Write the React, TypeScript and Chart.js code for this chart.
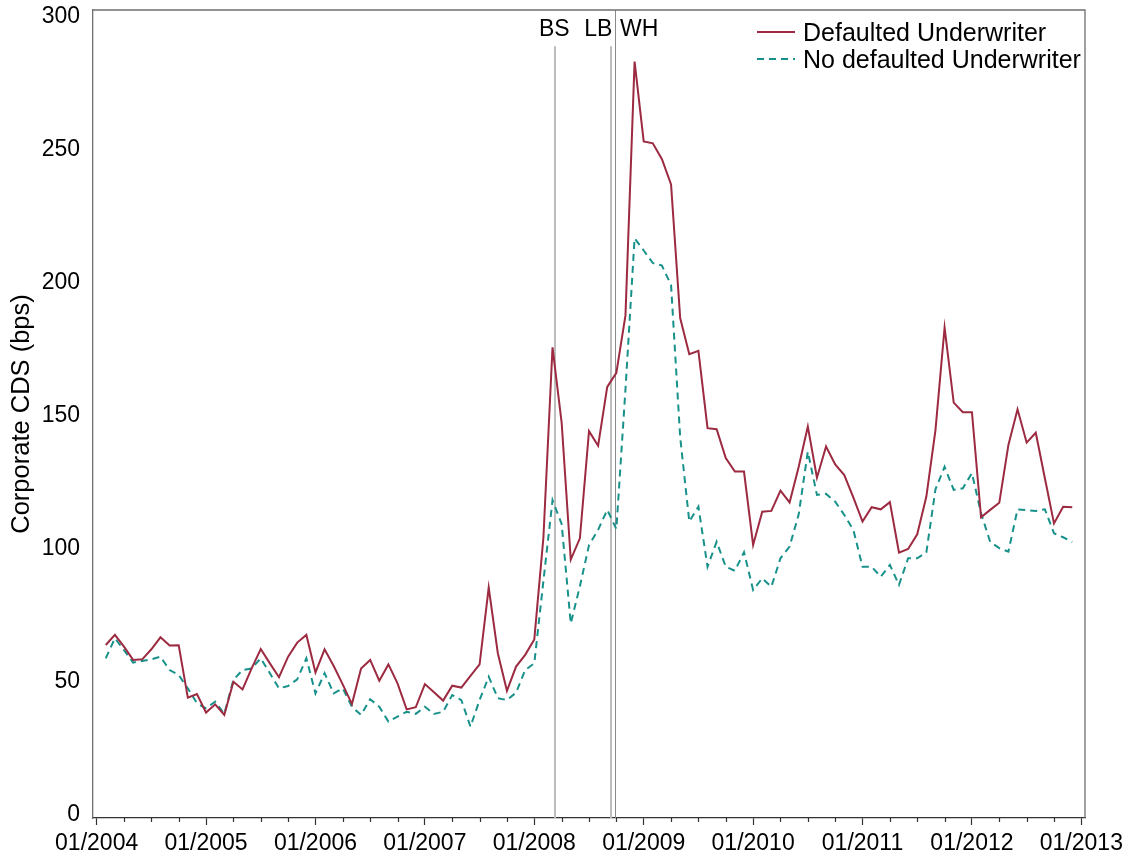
import React, { useEffect, useRef } from "react";
import { Chart, registerables } from "chart.js";

Chart.register(...registerables);

// ---- Data (monthly, first observation = 02/2004, last = 12/2012) ----
const defaulted = [
  63.9, 67.7, 63.3, 58.3, 58.5, 62.3, 66.8, 63.7, 63.8, 44.1, 45.5, 38.5,
  41.6, 37.6, 50.1, 47.2, 55.1, 62.4, 57.0, 51.8, 59.5, 64.8, 67.7, 53.6,
  62.3, 56.0, 49.0, 41.7, 55.1, 58.3, 50.5, 56.6, 49.5, 39.7, 40.5, 49.2,
  46.1, 43.0, 48.6, 47.9, 52.3, 56.6, 85.5, 60.8, 46.7, 55.8, 60.2, 66.0,
  104.3, 175.8, 147.5, 96.0, 104.0, 144.3, 138.8, 160.9, 166.2, 187.8, 283.2, 253.2,
  252.5, 246.5, 237.0, 186.8, 173.2, 174.5, 145.4, 145.0, 134.2, 129.1, 129.1, 101.5,
  114.0, 114.3, 121.9, 117.5, 130.9, 146.0, 126.8, 138.5, 131.8, 127.8, 119.3, 110.3,
  115.7, 114.9, 117.6, 98.6, 100.0, 105.5, 119.7, 144.7, 183.2, 155.0, 151.4, 151.4,
  111.9, 114.7, 117.4, 139.1, 152.5, 140.0, 143.7, 126.6, 109.6, 115.9, 115.7,
];

const noDefaulted = [
  58.9, 66.4, 62.0, 57.3, 57.9, 58.5, 59.5, 54.5, 52.6, 47.6, 42.0, 40.1,
  42.6, 38.0, 50.8, 54.5, 55.1, 58.9, 53.3, 47.6, 48.5, 51.0, 58.9, 45.7,
  53.3, 45.7, 47.6, 40.7, 37.6, 43.5, 40.7, 35.1, 37.0, 38.8, 38.0, 40.7,
  38.0, 38.8, 45.1, 43.2, 33.2, 43.2, 52.0, 43.9, 43.2, 46.0, 54.5, 57.0,
  88.0, 118.3, 109.4, 72.0, 86.0, 101.4, 107.2, 114.7, 107.5, 160.0, 216.8, 212.2,
  207.5, 206.5, 199.2, 142.0, 110.3, 115.9, 93.3, 102.7, 93.3, 91.8, 98.8, 84.6,
  89.0, 85.8, 96.5, 100.9, 113.0, 136.6, 120.3, 120.7, 117.8, 112.8, 107.1, 93.3,
  93.3, 89.6, 94.0, 86.5, 96.5, 96.5, 98.7, 122.4, 130.9, 122.2, 122.8, 128.5,
  113.4, 102.7, 100.3, 99.0, 114.9, 114.6, 114.3, 114.9, 105.9, 104.4, 102.7,
];

// months since 01/2004 for each observation (02/2004 = 1)
const FIRST_MONTH = 1;
const months = defaulted.map((_, i) => FIRST_MONTH + i);

const yearTickLabels = [
  "01/2004", "01/2005", "01/2006", "01/2007", "01/2008",
  "01/2009", "01/2010", "01/2011", "01/2012", "01/2013",
];
const yTickValues = [0, 50, 100, 150, 200, 250, 300];

const eventLabels = ["BS", "LB", "WH"];
const eventMonths = [50.3, 56.45, 56.85];

const seriesLabels = ["Defaulted Underwriter", "No defaulted Underwriter"];

// ---- Styles ----
const FONT = '"Liberation Sans", Arial, Helvetica, sans-serif';
const RED = "#9c2a40";
const TEAL = "#17918a";
const TEAL_DASH = [7, 5];
const eventStyles = [
  { color: "#bdbdbd", width: 2, topValue: 289, align: "center" as CanvasTextAlign, dx: -1 },
  { color: "#bdbdbd", width: 2, topValue: 289, align: "right" as CanvasTextAlign, dx: 1 },
  { color: "#8a8a8a", width: 1, topValue: null as number | null, align: "left" as CanvasTextAlign, dx: 5 },
];

const decorPlugin = {
  id: "decor",
  beforeDatasetsDraw(chart: any) {
    const { ctx, chartArea, scales } = chart;
    const xs = scales.x;
    const ys = scales.y;
    ctx.save();
    eventMonths.forEach((m, i) => {
      const st = eventStyles[i];
      const x = Math.round(xs.getPixelForValue(m)) + (st.width === 1 ? 0.5 : 0);
      const top = st.topValue == null ? chartArea.top : ys.getPixelForValue(st.topValue);
      ctx.strokeStyle = st.color;
      ctx.lineWidth = st.width;
      ctx.beginPath();
      ctx.moveTo(x, top);
      ctx.lineTo(x, chartArea.bottom);
      ctx.stroke();
    });
    ctx.restore();
  },
  afterDraw(chart: any) {
    const { ctx, chartArea, scales } = chart;
    const xs = scales.x;
    ctx.save();
    // frame top & right
    ctx.strokeStyle = "#6f6f6f";
    ctx.lineWidth = 1.3;
    ctx.beginPath();
    ctx.moveTo(chartArea.left, chartArea.top);
    ctx.lineTo(chartArea.right, chartArea.top);
    ctx.lineTo(chartArea.right, chartArea.bottom);
    ctx.stroke();

    // minor (quarterly) ticks
    ctx.strokeStyle = "#333";
    ctx.lineWidth = 1.2;
    for (let m = 3; m < 108; m += 3) {
      if (m % 12 === 0) continue;
      const x = Math.round(xs.getPixelForValue(m)) + 0.5;
      ctx.beginPath();
      ctx.moveTo(x, chartArea.bottom);
      ctx.lineTo(x, chartArea.bottom + 4);
      ctx.stroke();
    }

    // event labels
    ctx.fillStyle = "#000";
    ctx.font = `23px ${FONT}`;
    ctx.textBaseline = "middle";
    eventMonths.forEach((m, i) => {
      const st = eventStyles[i];
      const x = xs.getPixelForValue(m) + st.dx;
      ctx.textAlign = st.align;
      ctx.fillText(eventLabels[i], x, chartArea.top + 20);
    });

    // legend
    const x0 = chartArea.right - 328;
    const rows = [chartArea.top + 23, chartArea.top + 50];
    const colors = [RED, TEAL];
    const dashes = [[], TEAL_DASH];
    ctx.font = `25px ${FONT}`;
    ctx.textAlign = "left";
    rows.forEach((y, i) => {
      ctx.strokeStyle = colors[i];
      ctx.lineWidth = 2;
      ctx.setLineDash(dashes[i]);
      ctx.beginPath();
      ctx.moveTo(x0, y - 1);
      ctx.lineTo(x0 + 38, y - 1);
      ctx.stroke();
      ctx.setLineDash([]);
      ctx.fillStyle = "#000";
      ctx.fillText(seriesLabels[i], x0 + 46, y + 1);
    });
    ctx.restore();
  },
};

export default function App() {
  const ref = useRef<HTMLCanvasElement | null>(null);

  useEffect(() => {
    document.body.style.margin = "0";
    const canvas = ref.current;
    if (!canvas) return;
    const chart = new Chart(canvas, {
      type: "line",
      data: {
        datasets: [
          {
            label: seriesLabels[0],
            data: months.map((m, i) => ({ x: m, y: defaulted[i] })),
            borderColor: RED,
            borderWidth: 2,
            pointRadius: 0,
            tension: 0,
            fill: false,
          },
          {
            label: seriesLabels[1],
            data: months.map((m, i) => ({ x: m, y: noDefaulted[i] })),
            borderColor: TEAL,
            borderWidth: 2,
            borderDash: TEAL_DASH,
            pointRadius: 0,
            tension: 0,
            fill: false,
          },
        ],
      },
      options: {
        responsive: false,
        animation: false,
        layout: { padding: { left: 0, top: 10, right: 46, bottom: 0 } },
        plugins: {
          legend: { display: false },
          tooltip: { enabled: false },
        },
        scales: {
          x: {
            type: "linear",
            min: -0.4,
            max: 108.4,
            afterBuildTicks: (s: any) => {
              s.ticks = yearTickLabels.map((_, i) => ({ value: i * 12 }));
            },
            ticks: {
              callback: (_v: any, i: number) => yearTickLabels[i],
              font: { family: FONT, size: 23 },
              color: "#000",
              padding: 5,
              maxRotation: 0,
              autoSkip: false,
            },
            grid: {
              display: true,
              drawOnChartArea: false,
              drawTicks: true,
              tickLength: 7,
              tickColor: "#333",
              tickWidth: 1.2,
            },
            border: { display: true, color: "#333", width: 1.3 },
            afterFit: (s: any) => {
              s.height = 42;
              s.paddingLeft = 0;
              s.paddingRight = 0;
            },
          },
          y: {
            type: "linear",
            min: -1.13,
            max: 302.6,
            afterBuildTicks: (s: any) => {
              s.ticks = yTickValues.map((v) => ({ value: v }));
            },
            ticks: {
              font: { family: FONT, size: 23 },
              color: "#000",
              padding: 5,
            },
            grid: { display: false },
            border: { display: true, color: "#6f6f6f", width: 1.3 },
            title: {
              display: true,
              text: "Corporate CDS (bps)",
              font: { family: FONT, size: 25.5 },
              color: "#000",
              padding: { top: 7, bottom: 0 },
            },
            afterFit: (s: any) => {
              s.width = 93;
              s.paddingTop = 0;
              s.paddingBottom = 0;
            },
          },
        },
      },
      plugins: [decorPlugin],
    });
    return () => chart.destroy();
  }, []);

  return (
    <div style={{ position: "absolute", left: 0, top: 0, width: 1131, height: 860, background: "#fff" }}>
      <canvas ref={ref} width={1131} height={860} style={{ display: "block", width: 1131, height: 860 }} />
    </div>
  );
}
